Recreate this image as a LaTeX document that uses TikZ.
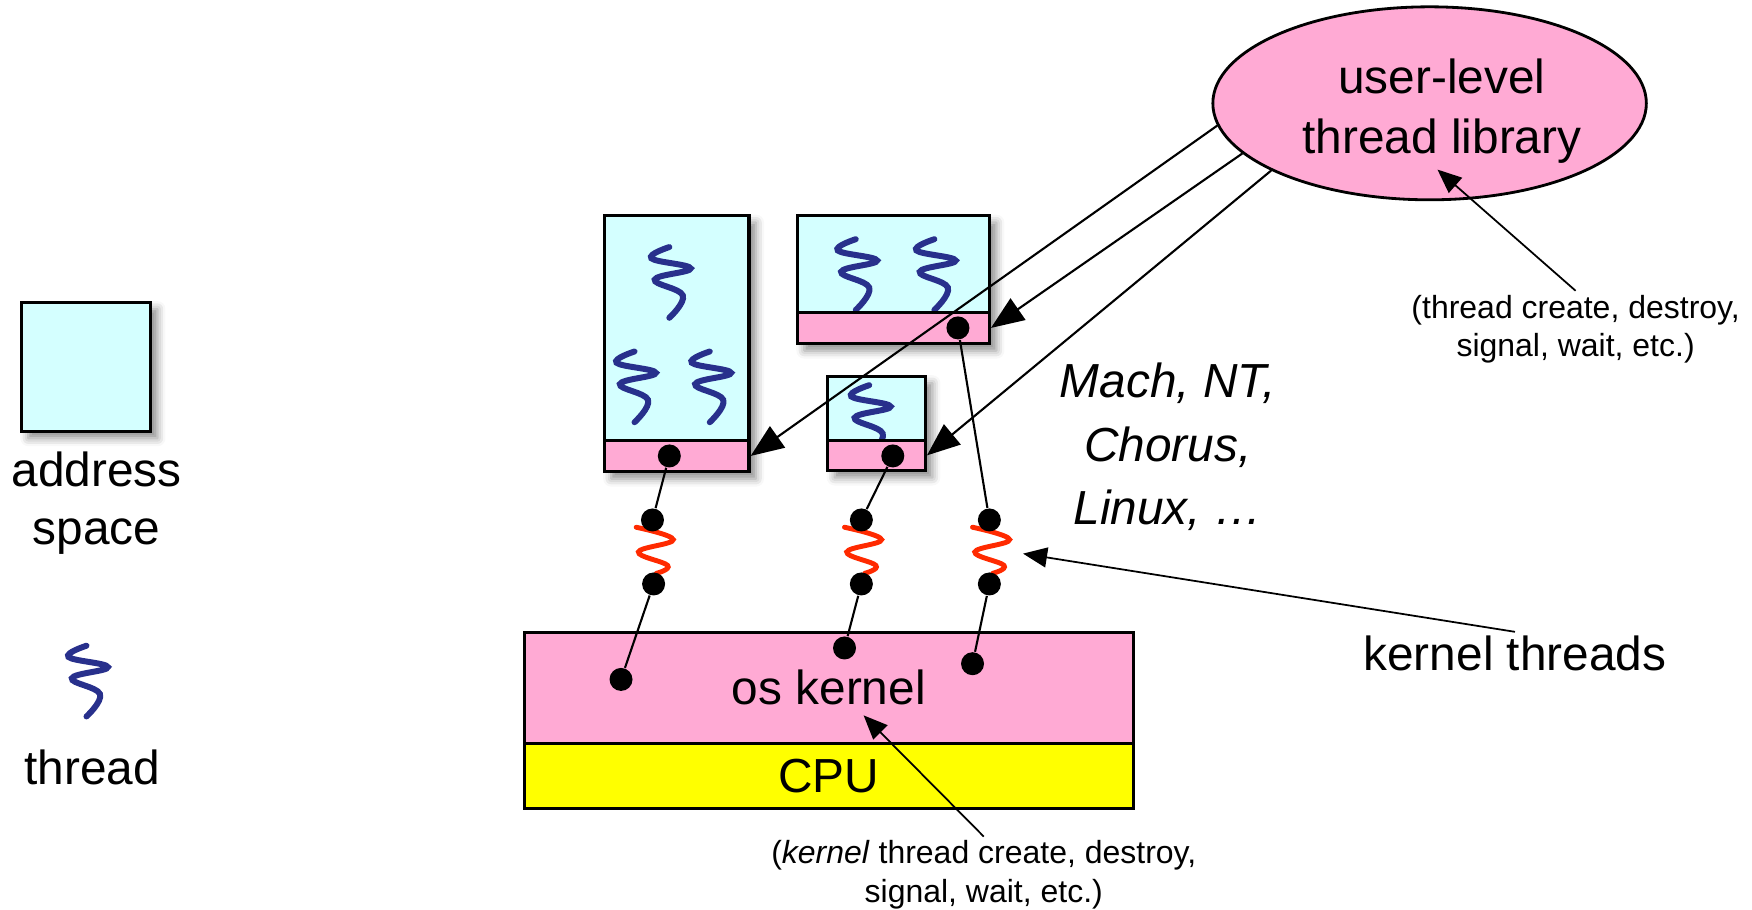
\documentclass[tikz,border=0pt]{standalone}
\usepackage{fontspec}
\setmainfont{Liberation Sans}
\usetikzlibrary{arrows.meta,shapes.geometric,shadows.blur,fit}
\definecolor{cyanfill}{RGB}{212,255,255}
\definecolor{pinkfill}{RGB}{255,170,212}
\definecolor{cpuyellow}{RGB}{255,255,0}
\definecolor{threadblue}{RGB}{40,48,140}
\definecolor{kred}{RGB}{255,42,0}
\begin{document}
\begin{tikzpicture}[x=0.01123cm, y=-0.01123cm,
	box/.style={draw, line width=0.9pt, fill=cyanfill, inner sep=0pt,
		blur shadow={shadow xshift=0.7mm, shadow yshift=-0.7mm, shadow blur radius=0.8mm, shadow opacity=45}},
	bar/.style={draw, line width=0.9pt, fill=pinkfill, inner sep=0pt},
	dot/.style={circle, fill=black, inner sep=0pt, minimum size=2.3mm},
	thr/.pic={\draw[line width=1.7pt, threadblue, line cap=round] plot[smooth, tension=0.7] coordinates {(-2,-32) (-18,-22) (17,-13) (-15,-3) (10,11) (-2,31)};},
	kthr/.pic={\draw[line width=1.4pt, kred, line cap=round] plot[smooth, tension=0.7] coordinates {(-15,-22) (18,-11) (-13,0) (13,12) (3,19)};},
	link/.style={line width=0.6pt},
	big/.style={inner sep=1pt, font=\fontsize{13.6}{16.3}\selectfont},
	small/.style={inner sep=1pt, align=center, font=\fontsize{9.1}{10.9}\selectfont},
	callout/.style={line width=0.6pt, -{Triangle[length=3.3mm,width=2.6mm]}},
	note/.style={line width=0.5pt, -{Triangle[length=2.4mm,width=2mm]}}]
	\useasboundingbox (0,0) rectangle (1560.1,810.3);

	\node[box, fit={(19,269) (134,384)}] (legbox) {};
	\node[box, fit={(538,192) (667,420)}] (as1) {};
	\node[box, fit={(710,192) (881,306)}] (as2) {};
	\node[box, fit={(737,335) (824,419)}] (as3) {};

	\pic at (79,607) {thr};
	\pic at (598,252) {thr};
	\pic at (567,345) {thr};
	\pic at (634,345) {thr};
	\pic at (764,245) {thr};
	\pic at (834,245) {thr};
	\pic at (776,375) {thr};

	\node[bar, fit={(538,392) (667,420)}] (bar1) {};
	\node[bar, fit={(710,278) (881,306)}] (bar2) {};
	\node[bar, fit={(737,392) (824,419)}] (bar3) {};

	\node[bar, big, inner sep=0pt, minimum width=6.087cm, minimum height=1.112cm] (kern) at (738,612.5) {os kernel};
	\node[draw, line width=0.9pt, fill=cpuyellow, big, inner sep=0pt, minimum width=6.087cm, minimum height=0.651cm] (cpu) at (738,691) {CPU};

	\node[ellipse, draw, line width=0.8pt, fill=pinkfill, inner sep=0pt, minimum width=4.335cm, minimum height=1.93cm] (lib) at (1273,92) {};
	\node[inner sep=0pt, align=center, font=\fontsize{13.6}{16.9}\selectfont] (libtext) at (1284,99) {user-level\\thread library};

	\pic at (581.5,491.5) {kthr};
	\pic at (767,491.5) {kthr};
	\pic at (881,491.5) {kthr};

	\node[dot] (d1) at (596,406) {};
	\node[dot] (d2) at (795,406) {};
	\node[dot] (d3) at (853,292) {};
	\node[dot] (k1a) at (581,463) {};
	\node[dot] (k1b) at (582,520) {};
	\node[dot] (k2a) at (767,463) {};
	\node[dot] (k2b) at (767,520) {};
	\node[dot] (k3a) at (881,463) {};
	\node[dot] (k3b) at (881,520) {};
	\node[dot] (kd1) at (553,605) {};
	\node[dot] (kd2) at (752,577) {};
	\node[dot] (kd3) at (866,591) {};

	\draw[link] (d1) -- (k1a);
	\draw[link] (k1b) -- (kd1);
	\draw[link] (d2) -- (k2a);
	\draw[link] (k2b) -- (kd2);
	\draw[link] (d3) -- (k3a);
	\draw[link] (k3b) -- (kd3);

	\node[big, align=center] (aslabel) at (86,448) {address\\space};
	\node[big] (thrlabel) at (82,683) {thread};
	\node[inner sep=1pt, align=center, font=\itshape\fontsize{13.6}{18}\selectfont] (oslist) at (1040,398) {Mach, NT,\\Chorus,\\Linux, …};
	\node[big] (ktlabel) at (1349,582) {kernel threads};
	\node[small] (unote) at (1403,293) {(thread create, destroy,\\signal, wait, etc.)};
	\node[small] (knote) at (876,779) {(\textit{kernel} thread create, destroy,\\signal, wait, etc.)};

	\coordinate (libtip) at (1280,151);
	\coordinate (kttip) at (911,493);
	\coordinate (kerntip) at (769,637);

	\draw[callout] (lib.186) -- (bar1.east);
	\draw[callout] (lib.195) -- (bar2.east);
	\draw[callout] (lib.203) -- (bar3.east);
	\draw[note] (unote.north) -- (libtip);
	\draw[note] (ktlabel.north) -- (kttip);
	\draw[note] (knote.north) -- (kerntip);
\end{tikzpicture}
\end{document}
